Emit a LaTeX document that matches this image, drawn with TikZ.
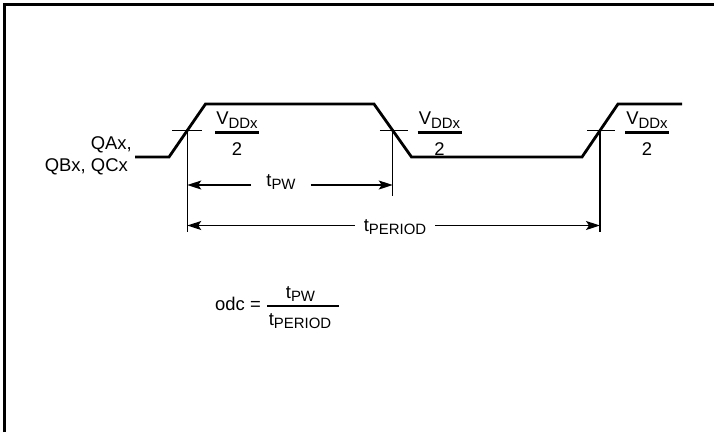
\documentclass[tikz,border=0pt]{standalone}
\usepackage{fontspec}
\setmainfont{Liberation Sans}
\usetikzlibrary{arrows.meta}
\newcommand{\sbs}[1]{\raisebox{-0.40ex}{\fontsize{15}{16}\selectfont #1}}
\begin{document}
\begin{tikzpicture}[x=1bp,y=-1bp,
  sig/.style={line width=2.8bp, line join=miter},
  thinline/.style={line width=1.4bp},
  dimarrow/.style={line width=1.4bp, -{Stealth[length=14bp,width=9bp,inset=3bp]}},
  lbl/.style={inner sep=0pt, font=\fontsize{18.5}{20}\selectfont},
  fracbar/.style={line width=2.2bp}]
\useasboundingbox (0,0) rectangle (714,432);
% frame (left and top only)
\draw[line width=2.8bp] (4.6,432) -- (4.6,4.6) -- (714,4.6);
% signal
\coordinate (s0) at (135,157);
\coordinate (s1) at (169,157);
\coordinate (s2) at (205.5,104);
\coordinate (s3) at (374,104);
\coordinate (s4) at (411.5,157);
\coordinate (s5) at (582,157);
\coordinate (s6) at (618,104);
\coordinate (s7) at (682,104);
\draw[sig] (s0) -- (s1) -- (s2) -- (s3) -- (s4) -- (s5) -- (s6) -- (s7);
% crossing points
\coordinate (c1) at (187.25,130.5);
\coordinate (c2) at (392.75,130.5);
\coordinate (c3) at (600,130.5);
\draw[thinline] ([xshift=-15bp]c1) -- ([xshift=15bp]c1);
\draw[thinline] ([xshift=-13bp]c2) -- ([xshift=15bp]c2);
\draw[thinline] ([xshift=-13bp]c3) -- ([xshift=15bp]c3);
\coordinate (v1) at (187.25,232);
\coordinate (v2) at (392.75,196);
\coordinate (v3) at (600,232);
\draw[thinline] (c1) -- (v1);
\draw[thinline] (c2) -- (v2);
\draw[thinline] (c3) -- (v3);
% labels
\node[lbl, anchor=base east] (qa) at (132,149) {QAx,};
\node[lbl, anchor=base east] (qb) at (128,171) {QBx, QCx};
% VDD/2 fractions
\foreach \cx/\n in {237/1,439.5/2,647/3}{
  \node[lbl, anchor=base] (vdd\n) at (\cx,124.5) {V\sbs{DDx}};
  \draw[fracbar] (\cx-22,132.5) -- (\cx+22,132.5);
  \node[lbl, anchor=base] (two\n) at (\cx,155) {2};
}
% tPW
\coordinate (a1) at (187.25,185);
\coordinate (a2) at (392.75,185);
\node[lbl, anchor=base, inner xsep=15bp] (tpw) at (281,186) {t\sbs{PW}};
\draw[dimarrow] (tpw.west |- a1) -- (a1);
\draw[dimarrow] (tpw.east |- a2) -- (a2);
% tPERIOD
\coordinate (b1) at (187.25,225.5);
\coordinate (b3) at (600,225.5);
\node[lbl, anchor=base, inner xsep=9bp] (tper) at (395,231) {t\sbs{PERIOD}};
\draw[dimarrow] (tper.west |- b1) -- (b1);
\draw[dimarrow] (tper.east |- b3) -- (b3);
% odc formula
\node[lbl, anchor=base east] (odc) at (261,310) {odc =};
\draw[fracbar] (267,306) -- (339,306);
\node[lbl, anchor=base] (num) at (300.5,298) {t\sbs{PW}};
\node[lbl, anchor=base] (den) at (300,325) {t\sbs{PERIOD}};
\end{tikzpicture}
\end{document}
